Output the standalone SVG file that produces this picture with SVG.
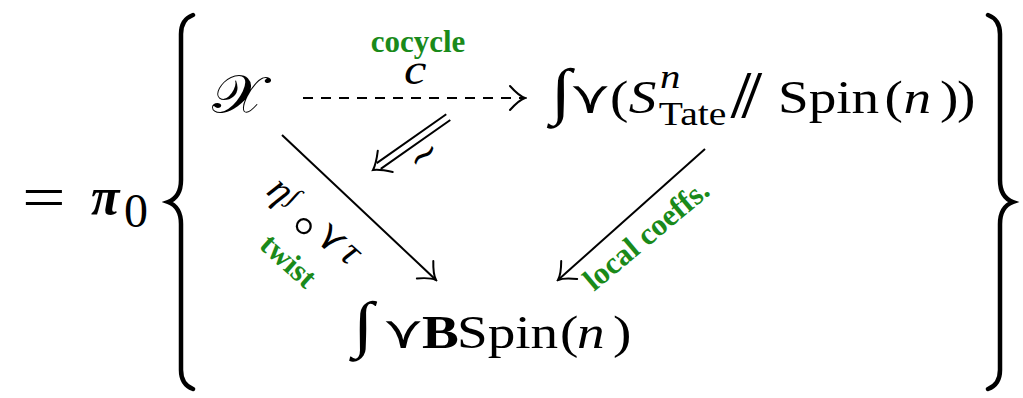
<svg xmlns="http://www.w3.org/2000/svg" width="1023" height="398" viewBox="0 0 1023 398">
<style>
text{font-family:"Liberation Serif","DejaVu Serif",serif;fill:#000}
.m{font-size:46px}
.it{font-style:italic}
.g{fill:#1a8a1a;font-weight:bold;font-size:31px}
.ln{stroke:#000;stroke-width:2;fill:none}
.br{stroke:#000;stroke-width:4.5;fill:none;stroke-linecap:round}
.hd{stroke:#000;stroke-width:2;fill:none;stroke-linecap:round}
</style>
<defs>
<marker id="ah" markerUnits="userSpaceOnUse" viewBox="-18 -15 20 30" refX="0" refY="0" markerWidth="20" markerHeight="30" orient="auto">
<path class="hd" d="M-15,-12 Q-6,-2 0,0 Q-6,2 -15,12"/>
</marker>
</defs>
<g transform="translate(22,218) scale(1.25,1)"><text x="0" y="0" style="font-size:62px">=</text></g>
<text x="91" y="214" style="font-size:52px;font-weight:bold;font-style:italic">π</text>
<text x="124" y="227" style="font-size:48px">0</text>
<path class="br" d="M193,15 C185,18 181,24 181,34 L181,180 C181,192 176,199 168,202 C176,205 181,212 181,224 L181,370 C181,380 185,386 193,389"/>
<path class="br" d="M988,15 C996,18 1000,24 1000,34 L1000,180 C1000,192 1005,199 1013,202 C1005,205 1000,212 1000,224 L1000,370 C1000,380 996,386 988,389"/>
<g id="node-X"><text transform="translate(212,113) scale(1.13,1)" style="font-size:54px">𝒳</text></g>
<g id="node-top"><g transform="scale(1.2,1)"><text class="m">
<tspan x="459" y="112" font-size="62">∫</tspan>
<tspan x="475" y="113">⋎</tspan>
<tspan x="508.3" y="113">(</tspan>
<tspan x="524" y="113" class="it">S</tspan>
<tspan x="550" y="88" class="it" font-size="34">n</tspan>
<tspan x="549" y="125" font-size="33">Tate</tspan>
<tspan x="609" y="117" font-size="60">⫽</tspan>
<tspan x="648.3" y="113">Spin</tspan>
<tspan x="737" y="113">(</tspan>
<tspan x="753" y="113" class="it">n</tspan>
<tspan x="783.3" y="113">)</tspan>
<tspan x="797.5" y="113">)</tspan>
</text></g></g>
<g id="node-bottom"><g transform="scale(1.2,1)"><text class="m">
<tspan x="294.2" y="345" font-size="62">∫</tspan>
<tspan x="319.2" y="348">⋎</tspan>
<tspan x="351.7" y="348" font-weight="bold">B</tspan>
<tspan x="380.8" y="348">Spin</tspan>
<tspan x="466.7" y="348">(</tspan>
<tspan x="480.8" y="348" class="it">n</tspan>
<tspan x="510.8" y="348">)</tspan>
</text></g></g>
<g id="connectors">
<line class="ln" x1="303" y1="98" x2="525" y2="98" stroke-dasharray="10 8" marker-end="url(#ah)"/>
<text class="g" x="418" y="52" text-anchor="middle">cocycle</text>
<text class="it" transform="translate(404,84) scale(1.15,1)" style="font-size:44px">c</text>
<line class="ln" x1="282" y1="135" x2="436" y2="280" marker-end="url(#ah)"/>
<g transform="translate(269,196) rotate(42)" style="font-size:40px">
<text class="it" x="-5" y="0">η</text>
<text x="16" y="-8" font-size="26">∫</text>
<text x="46" y="-3" text-anchor="middle" dominant-baseline="central" style="font-family:'DejaVu Sans',sans-serif;font-weight:200;font-size:60px">∘</text>
<text x="60" y="3">⋎</text>
<text class="it" x="92" y="-1">τ</text>
</g>
<text class="g" transform="translate(258,247) rotate(42)">twist</text>
<line class="ln" x1="705" y1="149" x2="558" y2="280" marker-end="url(#ah)"/>
<text class="g" transform="translate(594,292) rotate(-40)">local coeffs.</text>
<g transform="translate(373,170) rotate(144.9)">
<path class="ln" d="M-92,-3.5 L-7,-3.5 M-92,3.5 L-7,3.5"/>
<path class="hd" d="M-15,-13 Q-6,-3 0,0 Q-6,3 -15,13"/>
</g>
<text transform="translate(431,165) rotate(-36)" text-anchor="middle" style="font-size:38px">∼</text>
</g>
</svg>
